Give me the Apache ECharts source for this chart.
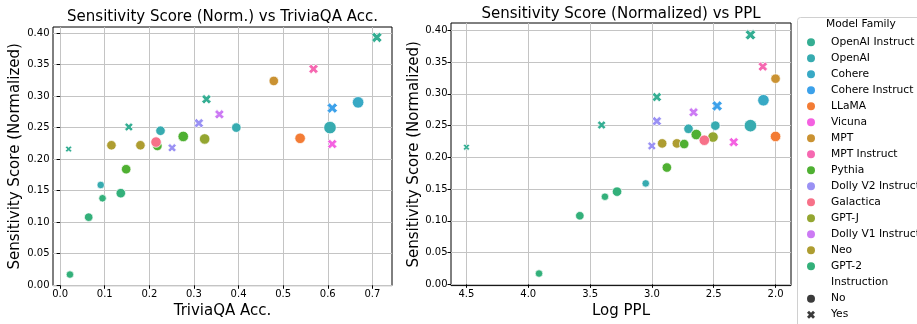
<!DOCTYPE html>
<html><head><meta charset="utf-8">
<script src="https://cdn.jsdelivr.net/npm/echarts@6/dist/echarts.min.js"></script>
<style>html,body{margin:0;padding:0;background:#fff}#c{width:917px;height:324px}</style>
</head><body><div id="c"></div>
<script>
// ---- data ----
const families = ['OpenAI Instruct','OpenAI','Cohere','Cohere Instruct','LLaMA','Vicuna','MPT','MPT Instruct','Pythia','Dolly V2 Instruct','Galactica','GPT-J','Dolly V1 Instruct','Neo','GPT-2'];
const familyColors = ['#35ae93','#37abb0','#38a9c5','#3ca1ea','#f37c35','#f461e1','#ca9232','#f668b1','#4fb032','#9a91f4','#f77189','#94a631','#cc7af4','#ae9d31','#33b07a'];
const instructionLevels = ['No','Yes'];

const modelFamily = ['GPT-2','GPT-2','GPT-2','GPT-2','OpenAI','Pythia','OpenAI Instruct','Neo','Neo','Dolly V2 Instruct','OpenAI','Pythia','Pythia','GPT-J','Galactica','Vicuna','LLaMA','OpenAI','OpenAI','OpenAI Instruct','Dolly V2 Instruct','Dolly V1 Instruct','Cohere Instruct','Cohere','OpenAI Instruct','MPT','MPT Instruct','OpenAI Instruct'];
const instruction = ['No','No','No','No','No','No','Yes','No','No','Yes','No','No','No','No','No','Yes','No','No','No','Yes','Yes','Yes','Yes','No','Yes','No','Yes','Yes'];
const triviaAcc   = [0.022,0.064,0.095,0.136,0.091,0.148,0.019,0.115,0.180,0.251,0.225,0.276,0.218,0.324,0.215,0.610,0.538,0.395,0.605,0.154,0.311,0.357,0.610,0.668,0.328,0.479,0.568,0.710];
const logPPL      = [3.913,3.583,3.380,3.282,3.050,2.879,4.500,2.917,2.798,3.001,2.704,2.641,2.739,2.506,2.576,2.338,2.000,2.487,2.203,3.407,2.960,2.663,2.473,2.098,2.960,2.000,2.103,2.203];
const sensitivity = [0.017,0.108,0.138,0.146,0.159,0.184,0.216,0.222,0.222,0.218,0.245,0.236,0.221,0.232,0.227,0.224,0.233,0.250,0.250,0.251,0.257,0.271,0.281,0.290,0.295,0.324,0.343,0.393];
const modelScale  = [4,5,4,6,4,6,3,6,6,5,6,7,6,7,7,6,7,6,9,5,6,6,7,8,6,6,6,7];

const xTicksLeft  = [0,0.1,0.2,0.3,0.4,0.5,0.6,0.7];
const xTicksRight = [4.5,4.0,3.5,3.0,2.5,2.0];
const yTicks      = [0,0.05,0.10,0.15,0.20,0.25,0.30,0.35,0.40];

// ---- chart ----
const FONT = 'DejaVu Sans';
const X_PATH = 'path://M0,2.5L2.5,0L5,2.5L7.5,0L10,2.5L7.5,5L10,7.5L7.5,10L5,7.5L2.5,10L0,7.5L2.5,5Z';
const colorOf = f => familyColors[families.indexOf(f)];

function pointData(xs) {
  return xs.map((x, i) => ({
    value: [x, sensitivity[i], modelScale[i]],
    symbol: instruction[i] === 'Yes' ? X_PATH : 'circle',
    itemStyle: { color: colorOf(modelFamily[i]) }
  }));
}

function xAxisCfg(idx, min, max, ticks, name, inverse) {
  return {
    type: 'value', gridIndex: idx, min, max, inverse,
    name, nameLocation: 'middle', nameGap: 16,
    nameTextStyle: { fontFamily: FONT, fontSize: 15, color: '#000' },
    axisLine: { show: false },
    axisTick: { show: true, length: 3.5, customValues: ticks, lineStyle: { color: '#000' } },
    axisLabel: { customValues: ticks, formatter: v => v.toFixed(1), fontFamily: FONT, fontSize: 10, color: '#000', margin: 3.5 },
    splitLine: { show: true, lineStyle: { color: '#c4c4c4', width: 1 } }
  };
}
function yAxisCfg(idx, min, max, gap) {
  return {
    type: 'value', gridIndex: idx, min, max,
    name: 'Sensitivity Score (Normalized)', nameLocation: 'middle', nameGap: gap,
    nameTextStyle: { fontFamily: FONT, fontSize: 15, color: '#000' },
    axisLine: { show: false },
    axisTick: { show: true, length: 3.5, customValues: yTicks, lineStyle: { color: '#000' } },
    axisLabel: { customValues: yTicks, formatter: v => v.toFixed(2), fontFamily: FONT, fontSize: 10, color: '#000', margin: 3.5 },
    splitLine: { show: true, lineStyle: { color: '#c4c4c4', width: 1 } }
  };
}

const series = [
  { type: 'scatter', xAxisIndex: 0, yAxisIndex: 0, data: pointData(triviaAcc),
    symbolSize: v => 3.5 + v[2], itemStyle: { borderColor: '#fff', borderWidth: 0.7, opacity: 1 }, silent: true, z: 3 },
  { type: 'scatter', xAxisIndex: 1, yAxisIndex: 1, data: pointData(logPPL),
    symbolSize: v => 3.5 + v[2], itemStyle: { borderColor: '#fff', borderWidth: 0.7, opacity: 1 }, silent: true, z: 3 }
];
families.forEach((f, i) => series.push({ type: 'scatter', name: f, xAxisIndex: 0, yAxisIndex: 0, data: [], itemStyle: { color: familyColors[i], opacity: 1 } }));
instructionLevels.forEach(n => series.push({ type: 'scatter', name: n, xAxisIndex: 0, yAxisIndex: 0, data: [], itemStyle: { color: '#3b3b3b', opacity: 1 } }));

const legendText = { fontFamily: FONT, fontSize: 10.7, color: '#000', lineHeight: 16, padding: [0, 0, 0, 11] };

const option = {
  animation: false,
  backgroundColor: '#fff',
  title: [
    { text: 'Sensitivity Score (Norm.) vs TriviaQA Acc.', left: 222.5, top: 9.2, padding: 0, textAlign: 'center',
      textStyle: { fontFamily: FONT, fontSize: 15, fontWeight: 'normal', color: '#000' } },
    { text: 'Sensitivity Score (Normalized) vs PPL', left: 621, top: 6.5, padding: 0, textAlign: 'center',
      textStyle: { fontFamily: FONT, fontSize: 15, fontWeight: 'normal', color: '#000' } }
  ],
  grid: [
    { left: 53, top: 27, width: 339, height: 266, show: true, borderColor: '#000', borderWidth: 1, backgroundColor: 'transparent' },
    { left: 451, top: 23, width: 340, height: 269, show: true, borderColor: '#000', borderWidth: 1, backgroundColor: 'transparent' }
  ],
  xAxis: [
    xAxisCfg(0, -0.016, 0.744, xTicksLeft, 'TriviaQA Acc.', false),
    xAxisCfg(1, 1.875, 4.625, xTicksRight, 'Log PPL', true)
  ],
  yAxis: [
    yAxisCfg(0, -0.0005, 0.4095, 30.5),
    yAxisCfg(1, -0.002, 0.4117, 29)
  ],
  legend: [
    { orient: 'vertical', left: 807, top: 34.3, padding: 0, itemGap: 0, itemWidth: 8, itemHeight: 8,
      icon: 'circle', selectedMode: false, data: families, textStyle: legendText },
    { orient: 'vertical', left: 807, top: 290.7, padding: 0, itemGap: 0, itemWidth: 8, itemHeight: 8,
      selectedMode: false, data: [{ name: 'No', icon: 'circle' }, { name: 'Yes', icon: X_PATH }], textStyle: legendText }
  ],
  graphic: [
    { type: 'rect', left: 797, top: 17, z: -1, silent: true,
      shape: { width: 200, height: 330, r: 3 }, style: { fill: '#fff', stroke: '#d0d0d0', lineWidth: 1 } },
    { type: 'text', left: 826, top: 19, silent: true,
      style: { text: 'Model Family', font: '10.7px "DejaVu Sans"', fill: '#000' } },
    { type: 'text', left: 831, top: 277, silent: true,
      style: { text: 'Instruction', font: '10.7px "DejaVu Sans"', fill: '#000' } }
  ],
  series
};
const chart = echarts.init(document.getElementById('c'), null, { renderer: 'canvas' });
chart.setOption(option);
</script>
</body></html>
